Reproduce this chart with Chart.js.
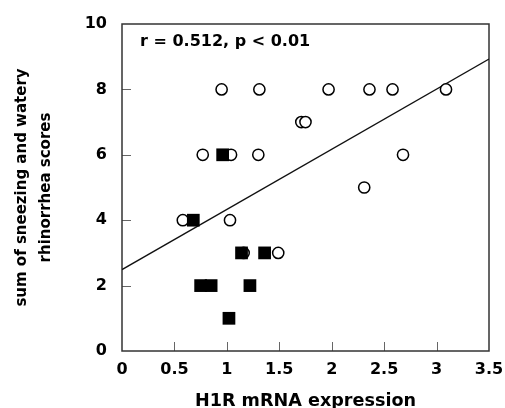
<!DOCTYPE html>
<html>
<head>
<meta charset="utf-8">
<script src="https://cdn.jsdelivr.net/npm/chart.js@4"></script>
<style>
  html, body { margin: 0; padding: 0; background: #fff; }
  #wrap { width: 505px; height: 408px; }
</style>
</head>
<body>
<div id="wrap"><canvas id="c"></canvas></div>
<script>
// open circles
const openX = [0.95, 1.31, 1.97, 2.36, 2.58, 3.09, 1.71, 1.75, 0.77, 1.04, 1.30, 2.68, 2.31, 0.58, 1.03, 1.16, 1.49];
const openY = [8, 8, 8, 8, 8, 8, 7, 7, 6, 6, 6, 6, 5, 4, 4, 3, 3];

// filled squares
const filledX = [0.96, 0.68, 1.14, 1.36, 0.75, 0.85, 1.22, 1.02];
const filledY = [6, 4, 3, 3, 2, 2, 2, 1];

// regression line end points
const fitX = [0, 3.5];
const fitY = [2.49, 8.93];

const xTickLabels = ["0", "0.5", "1", "1.5", "2", "2.5", "3", "3.5"];
const yTickLabels = ["0", "2", "4", "6", "8", "10"];
const statsText = "r = 0.512, p < 0.01";

const pts = (xs, ys) => xs.map((x, i) => ({ x, y: ys[i] }));

Chart.defaults.font.family = "'DejaVu Sans', sans-serif";
Chart.defaults.color = "#000";

// box round the plot, inward tick marks, r/p text
const framePlugin = {
  id: "frame",
  beforeDatasetsDraw(chart) {
    const { ctx, chartArea: a, scales: { x, y } } = chart;
    ctx.save();
    ctx.strokeStyle = "#666";
    ctx.lineWidth = 1;
    x.ticks.forEach(t => {
      if (t.value <= x.min || t.value >= x.max) return;
      const px = Math.round(x.getPixelForValue(t.value)) + 0.5;
      ctx.beginPath();
      ctx.moveTo(px, a.bottom);
      ctx.lineTo(px, a.bottom - 9);
      ctx.stroke();
    });
    y.ticks.forEach(t => {
      if (t.value <= y.min || t.value >= y.max) return;
      const py = Math.round(y.getPixelForValue(t.value)) + 0.5;
      ctx.beginPath();
      ctx.moveTo(a.left, py);
      ctx.lineTo(a.left + 9, py);
      ctx.stroke();
    });
    ctx.strokeStyle = "#333";
    ctx.lineWidth = 1.5;
    ctx.strokeRect(a.left, a.top, a.right - a.left, a.bottom - a.top);
    ctx.restore();
  },
  afterDraw(chart) {
    const { ctx, chartArea: a } = chart;
    ctx.save();
    ctx.font = "bold 16px 'DejaVu Sans'";
    ctx.fillStyle = "#000";
    ctx.textAlign = "left";
    ctx.textBaseline = "middle";
    ctx.fillText(statsText, a.left + 18, a.top + 18);
    ctx.restore();
  },
};

new Chart(document.getElementById("c"), {
  type: "scatter",
  data: {
    datasets: [
      {
        label: "filled",
        data: pts(filledX, filledY),
        pointStyle: "rect",
        pointRadius: 9,
        pointHoverRadius: 9,
        backgroundColor: "#000",
        borderColor: "#000",
        borderWidth: 0,
      },
      {
        label: "open",
        data: pts(openX, openY),
        pointStyle: "circle",
        pointRadius: 5.6,
        pointHoverRadius: 5.6,
        backgroundColor: "#fff",
        borderColor: "#000",
        borderWidth: 1.5,
      },
      {
        label: "fit",
        data: pts(fitX, fitY),
        showLine: true,
        pointRadius: 0,
        borderColor: "#111",
        borderWidth: 1.3,
        fill: false,
      },
    ],
  },
  options: {
    responsive: true,
    maintainAspectRatio: false,
    animation: false,
    events: [],
    layout: { padding: { top: 24, right: 16, left: 0, bottom: 0 } },
    plugins: {
      legend: { display: false },
      tooltip: { enabled: false },
    },
    scales: {
      x: {
        type: "linear",
        min: 0,
        max: 3.5,
        afterFit: (s) => { s.height = 57; s.paddingRight = 0; s.paddingLeft = 0; },
        grid: { display: false, drawTicks: false },
        border: { display: false },
        ticks: {
          stepSize: 0.5,
          maxRotation: 0,
          autoSkip: false,
          padding: 9,
          font: { size: 16, weight: "bold" },
          callback: (v, i) => xTickLabels[i],
        },
        title: {
          display: true,
          text: "H1R mRNA expression",
          font: { size: 17.6, weight: "bold", lineHeight: 1 },
          padding: { top: 0, bottom: -2 },
        },
      },
      y: {
        type: "linear",
        min: 0,
        max: 10,
        afterFit: (s) => { s.width = 122; s.paddingTop = 0; s.paddingBottom = 0; },
        grid: { display: false, drawTicks: false },
        border: { display: false },
        ticks: {
          stepSize: 2,
          padding: 15,
          font: { size: 16, weight: "bold" },
          callback: (v, i) => yTickLabels[i],
        },
        title: {
          display: true,
          text: ["sum of sneezing and watery", "rhinorrhea scores"],
          font: { size: 15, weight: "bold", lineHeight: 1.6 },
          padding: { top: 10, bottom: 0 },
        },
      },
    },
  },
  plugins: [framePlugin],
});
</script>
</body>
</html>
